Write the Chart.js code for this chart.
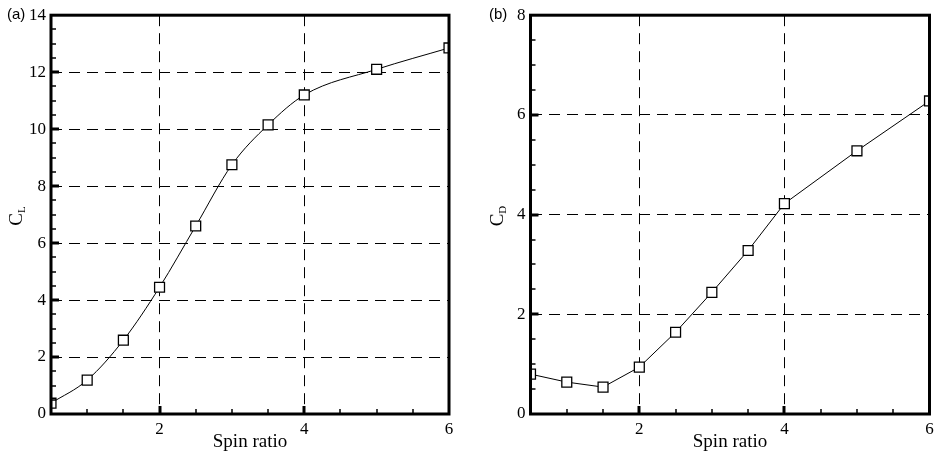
<!DOCTYPE html>
<html>
<head>
<meta charset="utf-8">
<script src="https://cdn.jsdelivr.net/npm/chart.js@4"></script>
<style>
  body { margin: 0; background: #fff; }
  #wrap { position: relative; width: 943px; height: 458px; overflow: hidden; }
  .cv { position: absolute; top: 0; }
  .lbl { position: absolute; font-family: "Liberation Sans", Arial, sans-serif; font-size: 15px; color: #000; }
  .ytitle { position: absolute; font-family: "Liberation Serif", "Times New Roman", serif; font-size: 19px; color: #000;
            transform: translate(-50%, -50%) rotate(-90deg); white-space: nowrap; }
  .ytitle sub { font-size: 11px; vertical-align: -3px; }
</style>
</head>
<body>
<div id="wrap">
  <div class="cv" style="left:0;width:460px;height:458px"><canvas id="chartA"></canvas></div>
  <div class="cv" style="left:480px;width:463px;height:458px"><canvas id="chartB"></canvas></div>
  <div class="lbl" style="left:7px;top:5px">(a)</div>
  <div class="lbl" style="left:489px;top:5px">(b)</div>
  <div class="ytitle" style="left:16px;top:216px">C<sub>L</sub></div>
  <div class="ytitle" style="left:497px;top:216px">C<sub>D</sub></div>
</div>
<script>
// spin ratio values
const spinRatio = [0.5, 1, 1.5, 2, 2.5, 3, 3.5, 4, 5, 6];
// lift coefficient (a)
const liftCoef = [0.38, 1.19, 2.59, 4.45, 6.6, 8.75, 10.15, 11.2, 12.1, 12.85];
// drag coefficient (b)
const dragCoef = [0.8, 0.64, 0.54, 0.94, 1.64, 2.44, 3.28, 4.22, 5.28, 6.28];

const xMin = 0.5, xMax = 6;
const xLabels = [2, 4, 6];

const serif = "'Liberation Serif', 'Times New Roman', serif";

// rahmen + ticks nach innen
const frameTicks = {
    id: 'frameTicks',
    afterDraw(chart) {
        const { ctx, chartArea: a, scales } = chart;
        ctx.save();
        ctx.strokeStyle = '#000';
        // ticks x
        scales.x.ticks.forEach(t => {
            if (t.value <= scales.x.min || t.value >= scales.x.max) return;
            const major = t.value % 2 === 0;
            const px = Math.round(scales.x.getPixelForValue(t.value));
            ctx.lineWidth = major ? 3 : 1.5;
            ctx.beginPath();
            ctx.moveTo(px, a.bottom);
            ctx.lineTo(px, a.bottom - (major ? 8 : 5));
            ctx.stroke();
        });
        // ticks y
        scales.y.ticks.forEach(t => {
            if (t.value <= scales.y.min || t.value >= scales.y.max) return;
            const major = t.value % 2 === 0;
            const py = Math.round(scales.y.getPixelForValue(t.value));
            ctx.lineWidth = major ? 3 : 1.5;
            ctx.beginPath();
            ctx.moveTo(a.left, py);
            ctx.lineTo(a.left + (major ? 8 : 5), py);
            ctx.stroke();
        });
        ctx.lineWidth = 3;
        ctx.strokeRect(a.left, a.top, a.right - a.left, a.bottom - a.top);
        ctx.restore();
    }
};

function makeChart(id, values, yMax, padRight, yWidth, smooth) {
    const ctx = document.getElementById(id).getContext('2d');
    const pts = spinRatio.map((x, i) => ({ x: x, y: values[i] }));
    return new Chart(ctx, {
        type: 'line',
        data: {
            datasets: [{
                data: pts,
                borderColor: '#000',
                borderWidth: 1,
                cubicInterpolationMode: smooth ? 'monotone' : 'default',
                tension: 0,
                pointStyle: 'rect',
                pointRadius: 7,
                pointBorderWidth: 1.3,
                pointBorderColor: '#000',
                pointBackgroundColor: '#fff',
                clip: 0
            }]
        },
        options: {
            responsive: true,
            maintainAspectRatio: false,
            animation: false,
            events: [],
            layout: { padding: { top: 13, right: padRight, bottom: 0, left: 0 } },
            plugins: { legend: { display: false }, tooltip: { enabled: false } },
            scales: {
                x: {
                    type: 'linear',
                    min: xMin,
                    max: xMax,
                    afterFit: s => { s.height = 44; },
                    ticks: {
                        stepSize: 0.5,
                        autoSkip: false,
                        maxRotation: 0,
                        padding: 5,
                        color: '#000',
                        font: { family: serif, size: 17 },
                        callback: v => xLabels.includes(v) ? String(v) : ''
                    },
                    grid: {
                        drawTicks: false,
                        lineWidth: 1,
                        color: c => (c.tick && c.tick.value % 2 === 0 && c.tick.value > xMin && c.tick.value < xMax) ? '#000' : 'rgba(0,0,0,0)'
                    },
                    border: { display: false, dash: [11, 7] },
                    title: {
                        display: true,
                        text: 'Spin ratio',
                        color: '#000',
                        font: { family: serif, size: 19 },
                        padding: { top: 0, bottom: 5 }
                    }
                },
                y: {
                    type: 'linear',
                    min: 0,
                    max: yMax,
                    afterFit: s => { s.width = yWidth; },
                    ticks: {
                        stepSize: 0.5,
                        autoSkip: false,
                        padding: 5,
                        color: '#000',
                        font: { family: serif, size: 17 },
                        callback: v => v % 2 === 0 ? String(v) : ''
                    },
                    grid: {
                        drawTicks: false,
                        lineWidth: 1,
                        color: c => (c.tick && c.tick.value % 2 === 0 && c.tick.value > 0 && c.tick.value < yMax) ? '#000' : 'rgba(0,0,0,0)'
                    },
                    border: { display: false, dash: [11, 7] }
                }
            }
        },
        plugins: [frameTicks]
    });
}

makeChart('chartA', liftCoef, 14, 11, 51, true);
makeChart('chartB', dragCoef, 8, 13.5, 50.5, false);
</script>
</body>
</html>
